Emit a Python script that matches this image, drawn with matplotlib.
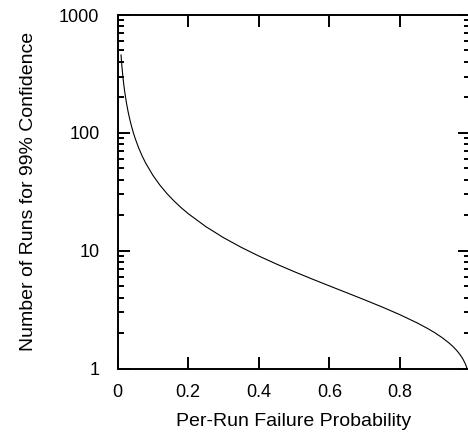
import matplotlib
matplotlib.use("Agg")
import matplotlib.pyplot as plt
from matplotlib.ticker import LogLocator, NullFormatter, FixedLocator

plt.rcParams['font.family'] = ['Liberation Sans', 'DejaVu Sans']

# Values
p_fail = [0.01, 0.0125, 0.015, 0.0175, 0.02, 0.025, 0.03, 0.035, 0.04, 0.045,
          0.05, 0.06, 0.07, 0.08, 0.10, 0.12, 0.14, 0.16, 0.18, 0.20,
          0.25, 0.30, 0.35, 0.40, 0.45, 0.50, 0.55, 0.60, 0.65, 0.70,
          0.75, 0.80, 0.85, 0.88, 0.90, 0.92, 0.94, 0.95, 0.96, 0.965,
          0.97, 0.975, 0.98, 0.985, 0.9875, 0.99]
runs = [458.2, 366.1, 304.7, 260.8, 227.9, 181.9, 151.2, 129.3, 112.8, 100.0,
        89.78, 74.43, 63.46, 55.23, 43.71, 36.03, 30.53, 26.41, 23.21, 20.64,
        16.01, 12.91, 10.69, 9.015, 7.703, 6.644, 5.767, 5.026, 4.387, 3.825,
        3.322, 2.861, 2.427, 2.172, 2.000, 1.823, 1.637, 1.537, 1.431, 1.374,
        1.313, 1.248, 1.177, 1.097, 1.051, 1.000]
x_ticks = [0, 0.2, 0.4, 0.6, 0.8]
x_tick_labels = ["0", "0.2", "0.4", "0.6", "0.8"]
y_ticks = [1, 10, 100, 1000]
y_tick_labels = ["1", "10", "100", "1000"]

fig = plt.figure(figsize=(4.68, 4.32), dpi=100)
ax = fig.add_axes([117.5/468, (432-368.5)/432, (469.5-117.5)/468, (368.5-15)/432])

ax.plot(p_fail, runs, color='black', linewidth=0.8)
ax.set_yscale('log')
ax.set_xlim(0, 0.997)
ax.set_ylim(1, 1000)

ax.xaxis.set_major_locator(FixedLocator(x_ticks))
ax.set_xticklabels(x_tick_labels)
ax.yaxis.set_major_locator(FixedLocator(y_ticks))
ax.set_yticklabels(y_tick_labels)
ax.yaxis.set_minor_locator(LogLocator(base=10, subs=range(2, 10)))
ax.yaxis.set_minor_formatter(NullFormatter())

for s in ax.spines.values():
    s.set_linewidth(1.4)

ax.tick_params(axis='both', which='major', direction='in', length=8.5, width=1.4,
               labelsize=13, top=True, right=True)
ax.tick_params(axis='x', which='major', pad=11)
ax.tick_params(axis='y', which='major', pad=13)
ax.tick_params(axis='y', which='minor', direction='in', length=4.5, width=1.4,
               left=True, right=True)

ax.set_xlabel("Per-Run Failure Probability", fontsize=14, labelpad=9)
ax.set_ylabel("Number of Runs for 99% Confidence", fontsize=14, labelpad=16)

fig.savefig("out.png", dpi=100)
